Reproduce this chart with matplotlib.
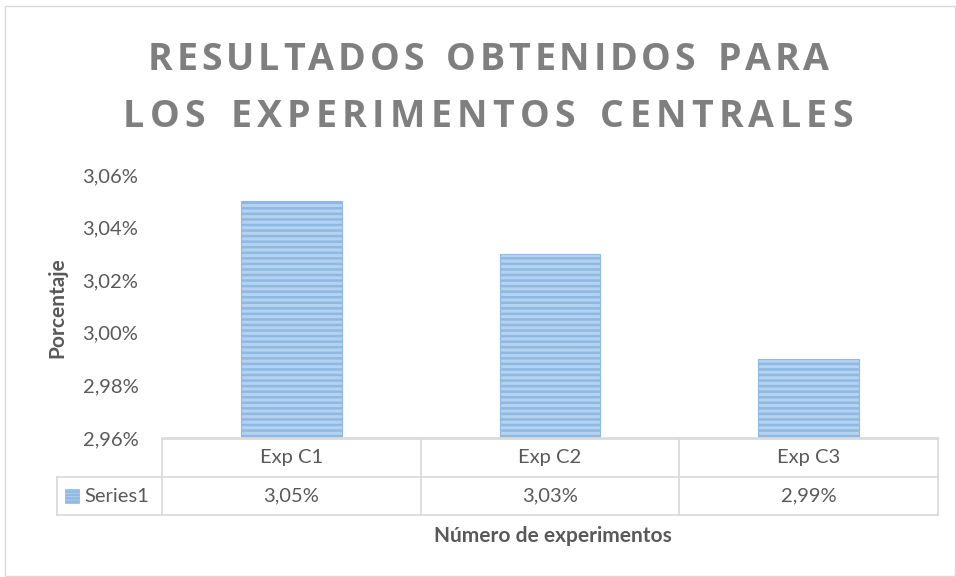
import matplotlib
matplotlib.use("Agg")
import matplotlib.pyplot as plt
from matplotlib.patches import Rectangle
from matplotlib.lines import Line2D
import matplotlib.transforms as mtrans

categories = ["Exp C1", "Exp C2", "Exp C3"]
values = [3.05, 3.03, 2.99]
yticks = [2.96, 2.98, 3.00, 3.02, 3.04, 3.06]
series_name = "Series1"
title_lines = ["RESULTADOS OBTENIDOS PARA", "LOS EXPERIMENTOS CENTRALES"]
xlabel = "Número de experimentos"
ylabel = "Porcentaje"

W, H = 956, 577
FONT = "Lato"
TFONT = "Open Sans"
GRAY = "#595959"
LINE = "#d9d9d9"
FACE = "#b4d3f0"
EDGE = "#8fb9e3"

plt.rcParams["hatch.color"] = "#5b9bd5"
plt.rcParams["hatch.linewidth"] = 1.8

def fmt(v):
    return ("%.2f" % v).replace(".", ",") + "%"

fig = plt.figure(figsize=(W / 100, H / 100), dpi=100)
def fx(px): return px / W
def fy(py): return 1 - py / H

# outer frame
fig.patches.append(Rectangle((fx(5), fy(576)), fx(955) - fx(5), fy(6) - fy(576),
                             transform=fig.transFigure, fill=False, edgecolor=LINE, lw=1))

ax = fig.add_axes([fx(162), fy(438), fx(938) - fx(162), fy(175) - fy(438)])
x = list(range(len(categories)))
ax.bar(x, values, width=0.39, color=FACE, edgecolor=EDGE, hatch="---", lw=0.8)
ax.set_xlim(-0.5, len(categories) - 0.5)
ax.set_ylim(yticks[0], yticks[-1])
ax.set_yticks(yticks)
ax.set_yticklabels([fmt(t) for t in yticks], fontsize=14.5, color=GRAY, family=FONT)
ax.tick_params(axis="y", length=0, pad=17)
ax.set_xticks([])
for s in ["top", "right", "left"]:
    ax.spines[s].set_visible(False)
ax.spines["bottom"].set_color(LINE)
ax.spines["bottom"].set_linewidth(1.2)

# data table
tr = mtrans.blended_transform_factory(ax.transData, fig.transFigure)
ytop, ymid, ybot = fy(439), fy(477), fy(515)
edges = [i - 0.5 for i in range(len(categories) + 1)]
lines = []
for yy in (ytop, ymid, ybot):
    lines.append(Line2D([edges[0], edges[-1]], [yy, yy], transform=tr))
for e in edges:
    lines.append(Line2D([e, e], [ytop, ybot], transform=tr))
lines.append(Line2D([fx(57), fx(162)], [ymid, ymid], transform=fig.transFigure))
lines.append(Line2D([fx(57), fx(162)], [ybot, ybot], transform=fig.transFigure))
lines.append(Line2D([fx(57), fx(57)], [ymid, ybot], transform=fig.transFigure))
for l in lines:
    l.set_color(LINE); l.set_linewidth(1.2); l.set_clip_on(False)
    fig.lines.append(l)
for i, c in enumerate(categories):
    fig.text(i, (ytop + ymid) / 2, c, transform=tr, ha="center", va="center",
             fontsize=14.5, color=GRAY, family=FONT)
    fig.text(i, (ymid + ybot) / 2, fmt(values[i]), transform=tr, ha="center", va="center",
             fontsize=14.5, color=GRAY, family=FONT)
fig.patches.append(Rectangle((fx(65), fy(503)), fx(79) - fx(65), fy(489) - fy(503),
                             transform=fig.transFigure, facecolor=FACE, edgecolor=EDGE,
                             hatch="-----", lw=0.5))
fig.text(fx(84), (ymid + ybot) / 2, series_name, ha="left", va="center",
         fontsize=14.5, color=GRAY, family=FONT)

# axis labels
fig.text(fx(553), fy(536), xlabel, ha="center", va="center", fontsize=15,
         fontweight="bold", color=GRAY, family=FONT)
fig.text(fx(57), fy(308), ylabel, ha="center", va="center", rotation=90, fontsize=15,
         fontweight="bold", color=GRAY, family=FONT)

# letter-spaced title, fitted to target width
fig.canvas.draw()
renderer = fig.canvas.get_renderer()
def spaced(text, x0, x1, baseline, size):
    widths = []
    for ch in text:
        t = fig.text(0, 0, ch if ch != " " else "n", fontsize=size, fontweight="bold", family=TFONT)
        bb = t.get_window_extent(renderer)
        widths.append(bb.width * (0.6 if ch == " " else 1.0))
        t.remove()
    spacing = ((x1 - x0) - sum(widths)) / (len(text) - 1)
    xcur = x0
    for ch, w in zip(text, widths):
        if ch != " ":
            fig.text(fx(xcur), fy(baseline), ch, ha="left", va="baseline", fontsize=size,
                     fontweight="bold", color="#7f7f7f", family=TFONT)
        xcur += w + spacing

spaced(title_lines[0], 148, 829, 70, 27)
spaced(title_lines[1], 123, 853, 127, 27)

fig.savefig("out.png", dpi=100)
